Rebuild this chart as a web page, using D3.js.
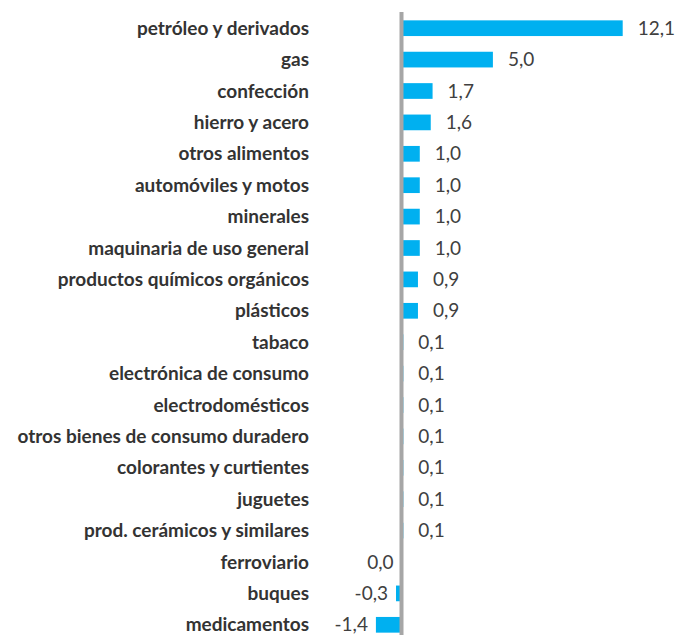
<!DOCTYPE html>
<html>
<head>
<meta charset="utf-8">
<script src="https://cdn.jsdelivr.net/npm/d3@7"></script>
<style>
  body { margin: 0; background: #fff; }
  .cat { font-family: Lato, "Open Sans", sans-serif; font-weight: bold; font-size: 19px; fill: #333; }
  .val { font-family: Lato, "Open Sans", sans-serif; font-size: 19px; fill: #404040; }
</style>
</head>
<body>
<div id="chart"></div>
<script>
// categories and values (top to bottom)
var categories = ["petróleo y derivados", "gas", "confección", "hierro y acero", "otros alimentos",
  "automóviles y motos", "minerales", "maquinaria de uso general", "productos químicos orgánicos",
  "plásticos", "tabaco", "electrónica de consumo", "electrodomésticos",
  "otros bienes de consumo duradero", "colorantes y curtientes", "juguetes",
  "prod. cerámicos y similares", "ferroviario", "buques", "medicamentos"];
var values = [12.1, 5.0, 1.7, 1.6, 1.0, 1.0, 1.0, 1.0, 0.9, 0.9, 0.1, 0.1, 0.1, 0.1, 0.1, 0.1, 0.1, 0.0, -0.3, -1.4];

var width = 688, height = 635;

var data = categories.map(function(c, i) { return {cat: c, val: values[i]}; });

var svg = d3.select("#chart").append("svg")
  .attr("width", width)
  .attr("height", height);

// x scale: zero sits on the grey axis
var x = d3.scaleLinear().domain([0, 12.1]).range([401.5, 622.7]);
var y = d3.scaleBand().domain(categories).range([12.5, 640.5]).paddingInner(0.5).paddingOuter(0.25);

var fmt = function(v) { return v.toFixed(1).replace(".", ","); };

// bars
svg.selectAll(".bar")
  .data(data)
  .enter().append("rect")
  .attr("class", "bar")
  .attr("x", function(d) { return Math.min(x(0), x(d.val)); })
  .attr("y", function(d) { return y(d.cat); })
  .attr("width", function(d) { return Math.abs(x(d.val) - x(0)); })
  .attr("height", y.bandwidth())
  .attr("fill", "#00b0f0");

// vertical axis line at zero
svg.append("line")
  .attr("x1", x(0)).attr("x2", x(0))
  .attr("y1", 12).attr("y2", height)
  .attr("stroke", "#a6a6a6")
  .attr("stroke-width", 4);

// category labels
svg.selectAll(".cat")
  .data(data)
  .enter().append("text")
  .attr("class", "cat")
  .attr("x", 309)
  .attr("y", function(d) { return y(d.cat) + y.bandwidth() / 2; })
  .attr("dy", "0.35em")
  .attr("text-anchor", "end")
  .text(function(d) { return d.cat; });

// value labels
svg.selectAll(".val")
  .data(data)
  .enter().append("text")
  .attr("class", "val")
  .attr("x", function(d) { return d.val > 0 ? x(d.val) + 15 : x(d.val) - 8; })
  .attr("y", function(d) { return y(d.cat) + y.bandwidth() / 2; })
  .attr("dy", "0.35em")
  .attr("text-anchor", function(d) { return d.val > 0 ? "start" : "end"; })
  .text(function(d) { return fmt(d.val); });
</script>
</body>
</html>
